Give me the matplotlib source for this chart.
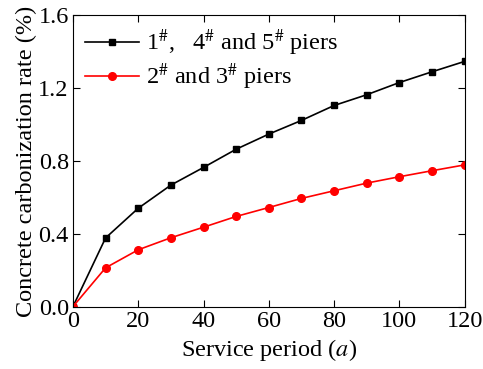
import matplotlib
matplotlib.use('Agg')
import matplotlib.pyplot as plt

# data
years = [0, 10, 20, 30, 40, 50, 60, 70, 80, 90, 100, 110, 120]
piers_145 = [0.0, 0.377, 0.54, 0.667, 0.764, 0.864, 0.947, 1.022, 1.104, 1.163, 1.230, 1.289, 1.346]
piers_23 = [0.0, 0.213, 0.312, 0.378, 0.436, 0.495, 0.544, 0.594, 0.636, 0.678, 0.713, 0.746, 0.778]

plt.rcParams['font.family'] = 'Liberation Serif'
plt.rcParams['mathtext.fontset'] = 'stix'

fs = 17.5
fig, ax = plt.subplots(figsize=(4.83, 3.69), dpi=100)
fig.subplots_adjust(left=0.151, right=0.962, top=0.959, bottom=0.169)

ax.plot(years, piers_145, 's-', color='black', ms=5, lw=1.2,
        label=r'1$^{\#}$,   4$^{\#}$ and 5$^{\#}$ piers')
ax.plot(years, piers_23, 'o-', color='red', ms=5.5, lw=1.2,
        label=r'2$^{\#}$ and 3$^{\#}$ piers')

ax.set_xlim(0, 120)
ax.set_ylim(0, 1.6)
ax.set_xticks(range(0, 121, 20))
ax.set_yticks([0.0, 0.4, 0.8, 1.2, 1.6])
ax.set_yticklabels(['0.0', '0.4', '0.8', '1.2', '1.6'])
ax.tick_params(direction='in', top=True, right=True, labelsize=fs, length=5, pad=3)
ax.set_xlabel(r'Service period ($\mathit{a}$)', fontsize=fs, labelpad=4)
ax.set_ylabel('Concrete carbonization rate (%)', fontsize=fs, labelpad=1)
ax.legend(loc='upper left', frameon=False, fontsize=fs, handlelength=2.2,
          borderaxespad=0.1, labelspacing=0.15, handletextpad=0.3)

plt.savefig('out.png')
